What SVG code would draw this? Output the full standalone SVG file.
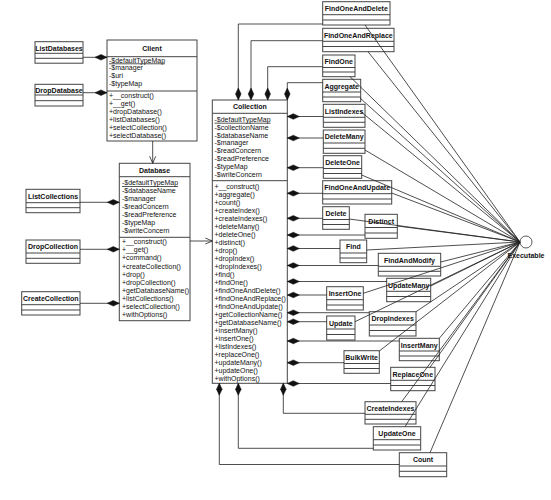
<svg xmlns="http://www.w3.org/2000/svg" width="551" height="500" viewBox="0 0 551 500">
<style>
.box{fill:#fff;stroke:#444;stroke-width:1}
.dv{stroke:#444;stroke-width:1}
.t{font-family:"Liberation Sans",Arial,sans-serif;font-size:7px;fill:#111}
.b{font-weight:bold;text-anchor:middle}
.u{text-decoration:underline}
.c{fill:none;stroke:#222;stroke-width:0.8}
.cd{fill:none;stroke:#222;stroke-width:0.8;marker-start:url(#dia)}
</style>
<defs>
<marker id="dia" markerUnits="userSpaceOnUse" markerWidth="13" markerHeight="7" refX="0" refY="3" orient="auto" overflow="visible">
<path d="M0,3 L6,0.2 L12,3 L6,5.8 Z" fill="#111" stroke="#111" stroke-width="0.5"/>
</marker>
<marker id="arr" markerUnits="userSpaceOnUse" markerWidth="9" markerHeight="7" refX="7" refY="3" orient="auto" overflow="visible">
<path d="M0,0 L7,3 L0,6" fill="none" stroke="#222" stroke-width="0.8"/>
</marker>
</defs>
<rect width="551" height="500" fill="#fff"/>

<g id="Client">
<rect class="box" x="107" y="40" width="90" height="101"/>
<line class="dv" x1="107" y1="56.7" x2="197" y2="56.7"/>
<line class="dv" x1="107" y1="91" x2="197" y2="91"/>
<text class="t b" x="152" y="50.5">Client</text>
<text class="t" x="109"><tspan class="u" x="109" y="62.5">-$defaultTypeMap</tspan><tspan x="109" y="70.3">-$manager</tspan><tspan x="109" y="78.1">-$uri</tspan><tspan x="109" y="85.9">-$typeMap</tspan></text>
<text class="t" x="109"><tspan x="109" y="98.2">+__construct()</tspan><tspan x="109" y="106.1">+__get()</tspan><tspan x="109" y="114">+dropDatabase()</tspan><tspan x="109" y="121.9">+listDatabases()</tspan><tspan x="109" y="129.8">+selectCollection()</tspan><tspan x="109" y="137.7">+selectDatabase()</tspan></text>
</g>

<g id="Database">
<rect class="box" x="119.3" y="163.3" width="70.7" height="157.4"/>
<line class="dv" x1="119.3" y1="176.7" x2="190" y2="176.7"/>
<line class="dv" x1="119.3" y1="237.3" x2="190" y2="237.3"/>
<text class="t b" x="154.6" y="173.2">Database</text>
<text class="t"><tspan class="u" x="122" y="185.2">-$defaultTypeMap</tspan><tspan x="122" y="193.2">-$databaseName</tspan><tspan x="122" y="201.2">-$manager</tspan><tspan x="122" y="209.2">-$readConcern</tspan><tspan x="122" y="217.2">-$readPreference</tspan><tspan x="122" y="225.2">-$typeMap</tspan><tspan x="122" y="233.2">-$writeConcern</tspan></text>
<text class="t"><tspan x="122" y="244.2">+__construct()</tspan><tspan x="122" y="252.3">+__get()</tspan><tspan x="122" y="260.4">+command()</tspan><tspan x="122" y="268.5">+createCollection()</tspan><tspan x="122" y="276.6">+drop()</tspan><tspan x="122" y="284.7">+dropCollection()</tspan><tspan x="122" y="292.8">+getDatabaseName()</tspan><tspan x="122" y="300.9">+listCollections()</tspan><tspan x="122" y="309">+selectCollection()</tspan><tspan x="122" y="317.1">+withOptions()</tspan></text>
</g>

<g id="Collection">
<rect class="box" x="212.3" y="100" width="75" height="283.3"/>
<line class="dv" x1="212.3" y1="113.3" x2="287.3" y2="113.3"/>
<line class="dv" x1="212.3" y1="180.7" x2="287.3" y2="180.7"/>
<text class="t b" x="249.8" y="109.2">Collection</text>
<text class="t"><tspan class="u" x="214.5" y="121.8">-$defaultTypeMap</tspan><tspan x="214.5" y="129.7">-$collectionName</tspan><tspan x="214.5" y="137.5">-$databaseName</tspan><tspan x="214.5" y="145.4">-$manager</tspan><tspan x="214.5" y="153.2">-$readConcern</tspan><tspan x="214.5" y="161.1">-$readPreference</tspan><tspan x="214.5" y="169">-$typeMap</tspan><tspan x="214.5" y="176.8">-$writeConcern</tspan></text>
<text class="t"><tspan x="214.5" y="189.2">+__construct()</tspan><tspan x="214.5" y="197.2">+aggregate()</tspan><tspan x="214.5" y="205.2">+count()</tspan><tspan x="214.5" y="213.1">+createIndex()</tspan><tspan x="214.5" y="221.1">+createIndexes()</tspan><tspan x="214.5" y="229.1">+deleteMany()</tspan><tspan x="214.5" y="237.1">+deleteOne()</tspan><tspan x="214.5" y="245.1">+distinct()</tspan><tspan x="214.5" y="253">+drop()</tspan><tspan x="214.5" y="261">+dropIndex()</tspan><tspan x="214.5" y="269">+dropIndexes()</tspan><tspan x="214.5" y="277">+find()</tspan><tspan x="214.5" y="285">+findOne()</tspan><tspan x="214.5" y="292.9">+findOneAndDelete()</tspan><tspan x="214.5" y="300.9">+findOneAndReplace()</tspan><tspan x="214.5" y="308.9">+findOneAndUpdate()</tspan><tspan x="214.5" y="316.9">+getCollectionName()</tspan><tspan x="214.5" y="324.9">+getDatabaseName()</tspan><tspan x="214.5" y="332.8">+insertMany()</tspan><tspan x="214.5" y="340.8">+insertOne()</tspan><tspan x="214.5" y="348.8">+listIndexes()</tspan><tspan x="214.5" y="356.8">+replaceOne()</tspan><tspan x="214.5" y="364.8">+updateMany()</tspan><tspan x="214.5" y="372.7">+updateOne()</tspan><tspan x="214.5" y="380.7">+withOptions()</tspan></text>
</g>

<g id="ListDatabases"><rect class="box" x="35" y="41.7" width="48" height="21.5"/><path class="dv" d="M35,53.3H83M35,58.3H83"/><text class="t b" x="59" y="50.5">ListDatabases</text></g>
<g id="DropDatabase"><rect class="box" x="35" y="84.3" width="48" height="21.7"/><path class="dv" d="M35,95H83M35,100.7H83"/><text class="t b" x="59" y="93">DropDatabase</text></g>
<g id="ListCollections"><rect class="box" x="26" y="189.3" width="54" height="23.4"/><path class="dv" d="M26,202.7H80M26,207.7H80"/><text class="t b" x="53" y="198.5">ListCollections</text></g>
<g id="DropCollection"><rect class="box" x="26" y="240" width="54" height="23.3"/><path class="dv" d="M26,253H80M26,258.3H80"/><text class="t b" x="53" y="249.3">DropCollection</text></g>
<g id="CreateCollection"><rect class="box" x="21.7" y="291.7" width="58.3" height="23.3"/><path class="dv" d="M21.7,304.7H80M21.7,310H80"/><text class="t b" x="50.8" y="300.8">CreateCollection</text></g>

<g id="FindOneAndDelete"><rect class="box" x="322.7" y="1.7" width="67.3" height="23.3"/><path class="dv" d="M322.7,14.7H390M322.7,20H390"/><text class="t b" x="356.3" y="11">FindOneAndDelete</text></g>
<g id="FindOneAndReplace"><rect class="box" x="322.7" y="28.3" width="71.3" height="23.4"/><path class="dv" d="M322.7,41.3H394M322.7,46.5H394"/><text class="t b" x="358.3" y="37.8">FindOneAndReplace</text></g>
<g id="FindOne"><rect class="box" x="322.7" y="55" width="32.3" height="21.7"/><path class="dv" d="M322.7,67.5H355M322.7,72H355"/><text class="t b" x="338.8" y="63.5">FindOne</text></g>
<g id="Aggregate"><rect class="box" x="322.7" y="79.3" width="38" height="22.4"/><path class="dv" d="M322.7,92H360.7M322.7,97H360.7"/><text class="t b" x="341.7" y="88.5">Aggregate</text></g>
<g id="ListIndexes"><rect class="box" x="323.3" y="104.3" width="41.7" height="23"/><path class="dv" d="M323.3,117.3H365M323.3,122.3H365"/><text class="t b" x="344.1" y="113.5">ListIndexes</text></g>
<g id="DeleteMany"><rect class="box" x="323.3" y="130" width="41.7" height="23.3"/><path class="dv" d="M323.3,143H365M323.3,148.3H365"/><text class="t b" x="344.1" y="139.3">DeleteMany</text></g>
<g id="DeleteOne"><rect class="box" x="323.3" y="155.7" width="38.4" height="22.6"/><path class="dv" d="M323.3,168.5H361.7M323.3,173.5H361.7"/><text class="t b" x="342.5" y="165">DeleteOne</text></g>
<g id="FindOneAndUpdate"><rect class="box" x="322.7" y="180.7" width="69" height="23.3"/><path class="dv" d="M322.7,193.7H391.7M322.7,199H391.7"/><text class="t b" x="357.2" y="190">FindOneAndUpdate</text></g>
<g id="Delete"><rect class="box" x="322.7" y="206.7" width="26.6" height="22.6"/><path class="dv" d="M322.7,219.5H349.3M322.7,224.5H349.3"/><text class="t b" x="336" y="215.5">Delete</text></g>
<g id="Distinct"><rect class="box" x="365" y="214.3" width="32.3" height="24"/><path class="dv" d="M365,227.5H397.3M365,233H397.3"/><text class="t b" x="381.2" y="223.5">Distinct</text></g>
<g id="Find"><rect class="box" x="340" y="240" width="26.7" height="22.7"/><path class="dv" d="M340,253H366.7M340,258H366.7"/><text class="t b" x="353.3" y="249">Find</text></g>
<g id="FindAndModify"><rect class="box" x="378.3" y="253.3" width="62.4" height="22.7"/><path class="dv" d="M378.3,266.3H440.7M378.3,271.3H440.7"/><text class="t b" x="409.5" y="262.5">FindAndModify</text></g>
<g id="UpdateMany"><rect class="box" x="386.7" y="278.3" width="44" height="23.4"/><path class="dv" d="M386.7,291.3H430.7M386.7,296.5H430.7"/><text class="t b" x="408.7" y="287.5">UpdateMany</text></g>
<g id="InsertOne"><rect class="box" x="326.7" y="286.7" width="36.6" height="23.3"/><path class="dv" d="M326.7,299.7H363.3M326.7,305H363.3"/><text class="t b" x="345" y="295.8">InsertOne</text></g>
<g id="Update"><rect class="box" x="326.7" y="316" width="28.3" height="24"/><path class="dv" d="M326.7,329H355M326.7,334.5H355"/><text class="t b" x="340.8" y="325.5">Update</text></g>
<g id="DropIndexes"><rect class="box" x="369.3" y="311.7" width="46.7" height="24.3"/><path class="dv" d="M369.3,325H416M369.3,330.5H416"/><text class="t b" x="392.6" y="321">DropIndexes</text></g>
<g id="BulkWrite"><rect class="box" x="344" y="350.7" width="35.3" height="22.6"/><path class="dv" d="M344,363.5H379.3M344,368.5H379.3"/><text class="t b" x="361.6" y="359.8">BulkWrite</text></g>
<g id="InsertMany"><rect class="box" x="399.3" y="338.3" width="40" height="22.4"/><path class="dv" d="M399.3,351H439.3M399.3,356H439.3"/><text class="t b" x="419.3" y="347.5">InsertMany</text></g>
<g id="ReplaceOne"><rect class="box" x="390.7" y="367.3" width="44.3" height="23.4"/><path class="dv" d="M390.7,380.3H435M390.7,385.5H435"/><text class="t b" x="412.8" y="376.5">ReplaceOne</text></g>
<g id="CreateIndexes"><rect class="box" x="365" y="401.7" width="51" height="22.3"/><path class="dv" d="M365,414.3H416M365,419.3H416"/><text class="t b" x="390.5" y="410.8">CreateIndexes</text></g>
<g id="UpdateOne"><rect class="box" x="373.3" y="426.7" width="47.4" height="23.3"/><path class="dv" d="M373.3,439.7H420.7M373.3,445H420.7"/><text class="t b" x="397" y="436">UpdateOne</text></g>
<g id="Count"><rect class="box" x="399.3" y="452.7" width="47.4" height="24"/><path class="dv" d="M399.3,466H446.7M399.3,471.3H446.7"/><text class="t b" x="423" y="462">Count</text></g>

<g id="Executable">
<circle cx="526" cy="242" r="6" fill="#fff" stroke="#333" stroke-width="0.8"/>
<text class="t b" x="526" y="258">Executable</text>
</g>

<g id="connectors">
<path class="cd" d="M107,57.3H83"/>
<path class="cd" d="M107,92.7H83"/>
<path class="c" d="M152.7,141V163.3" marker-end="url(#arr)"/>
<path class="cd" d="M119.3,202.3H80"/>
<path class="cd" d="M119.3,249.3H80"/>
<path class="cd" d="M119.3,303.3H80"/>
<path class="c" d="M190,241H212.3" marker-end="url(#arr)"/>
<path class="cd" d="M238.3,100V24H322.7"/>
<path class="cd" d="M251,100V40.7H322.7"/>
<path class="cd" d="M267.7,100V66.7H322.7"/>
<path class="cd" d="M287.3,100V82.7H322.7"/>
<path class="cd" d="M287.3,116.5H323.3"/>
<path class="cd" d="M287.3,138H323.3"/>
<path class="cd" d="M287.3,167.7H323.3"/>
<path class="cd" d="M287.3,193.3H322.7"/>
<path class="cd" d="M287.3,218.3H322.7"/>
<path class="cd" d="M287.3,235H365"/>
<path class="cd" d="M287.3,248.5H340"/>
<path class="cd" d="M287.3,265.5H378.3"/>
<path class="cd" d="M287.3,281.5H386.7"/>
<path class="cd" d="M287.3,295H326.7"/>
<path class="cd" d="M287.3,312.7H369.3"/>
<path class="cd" d="M287.3,321.7H326.7"/>
<path class="cd" d="M287.3,341H399.3"/>
<path class="cd" d="M287.3,362.7H344"/>
<path class="cd" d="M287.3,383.5H390.7"/>
<path class="cd" d="M283.3,383.3V413.3H365"/>
<path class="cd" d="M238.3,383.3V448.3H373.3"/>
<path class="cd" d="M219.3,383.3V464.5H399.3"/>
<path class="c" d="M365,25L520,242M368,51.7L520,242M350,76.7L520,242M360,98L520,242M360,111L520,242M365,150L520,242M361.7,175L520,242M391.7,193L520,242M349.3,219L520,242M397.3,226L520,242M366.7,250L520,242M440.7,262L520,242M430.7,286L520,242M363.3,293.3L520,242M355,321.7L520,242M416,311.7L520,242M379.3,351L520,242M439.3,338.3L520,242M430,367.3L520,242M401.7,401.7L520,242M405,426.7L520,242M430,452.7L520,242"/>
</g>
</svg>
